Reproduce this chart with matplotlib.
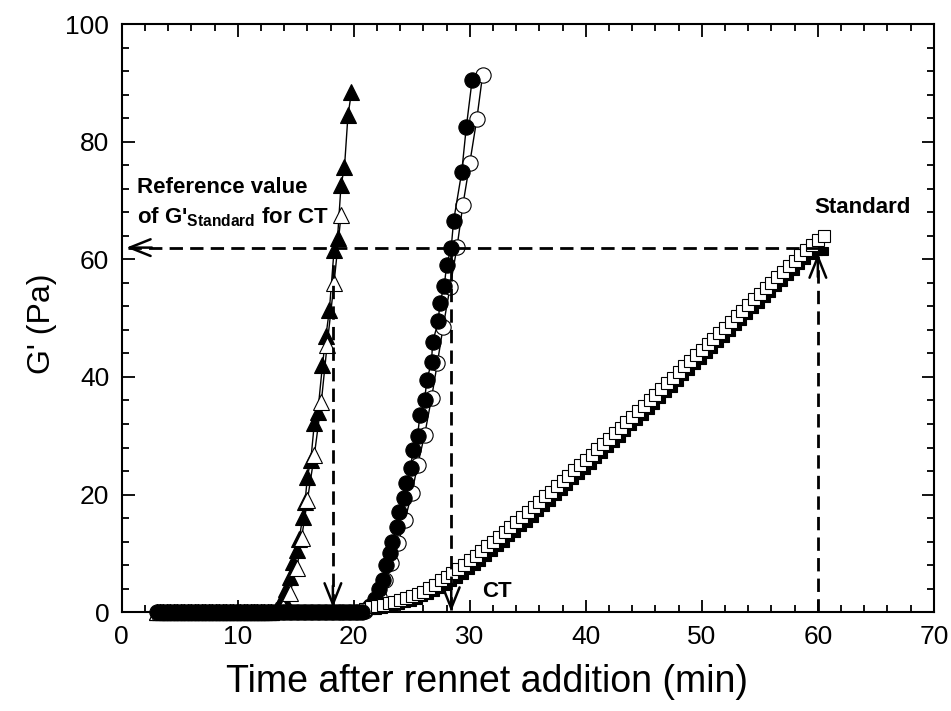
import matplotlib
matplotlib.use("Agg")
import matplotlib.pyplot as plt

plt.rcParams['font.family'] = ['Liberation Sans', 'DejaVu Sans']
plt.rcParams['mathtext.fontset'] = 'custom'
plt.rcParams['mathtext.rm'] = 'Liberation Sans'
plt.rcParams['mathtext.bf'] = 'Liberation Sans:bold'

# ---- data (time in min, G' in Pa) ----
lag_t = [3.0, 3.3, 3.6, 3.9, 4.2, 4.5, 4.8, 5.1, 5.4, 5.7, 6.0, 6.3, 6.6,
         6.9, 7.2, 7.5, 7.8, 8.1, 8.4, 8.7, 9.0, 9.3, 9.6, 9.9, 10.2, 10.5,
         10.8, 11.1, 11.4, 11.7, 12.0, 12.3, 12.6, 12.9]
lag_g = [0.0, 0.0, 0.0, 0.0, 0.0, 0.0, 0.0, 0.0, 0.0, 0.0, 0.0, 0.0, 0.0,
         0.0, 0.0, 0.0, 0.0, 0.0, 0.0, 0.0, 0.0, 0.0, 0.0, 0.0, 0.0, 0.0,
         0.0, 0.0, 0.0, 0.0, 0.0, 0.0, 0.0, 0.0]
lag2_t = [13.2, 13.5, 13.8, 14.1, 14.4, 14.7, 15.0, 15.3, 15.6, 15.9,
          16.2, 16.5, 16.8, 17.1, 17.4, 17.7, 18.0, 18.3, 18.6, 18.9,
          19.2, 19.5, 19.8, 20.1, 20.4, 20.7]
lag2_g = [0.0, 0.0, 0.0, 0.0, 0.0, 0.0, 0.0, 0.0, 0.0, 0.0,
          0.0, 0.0, 0.0, 0.0, 0.0, 0.0, 0.0, 0.0, 0.0, 0.0,
          0.0, 0.0, 0.0, 0.0, 0.0, 0.0]

tri_f_t = [13.3, 13.6, 13.9, 14.2, 14.5, 14.8, 15.1, 15.3, 15.6, 15.8,
           16.0, 16.3, 16.6, 16.9, 17.3, 17.6, 17.9, 18.3, 18.6, 18.9,
           19.2, 19.5, 19.8]
tri_f_g = [0.4, 1.0, 2.6, 4.0, 6.0, 8.5, 10.5, 12.5, 16.2, 18.7,
           23.0, 25.9, 32.1, 34.0, 42.0, 47.0, 51.4, 61.6, 63.6, 72.6,
           75.7, 84.5, 88.4]

tri_o_t = [13.3, 13.9, 14.5, 15.1, 15.5, 16.0, 16.6, 17.2, 17.7, 18.3, 18.9]
tri_o_g = [0.2, 0.8, 3.3, 7.5, 12.6, 19.0, 26.7, 35.7, 45.4, 56.0, 67.5]

cir_f_t = [21.0, 21.4, 21.8, 22.2, 22.5, 22.8, 23.1, 23.3, 23.7, 23.9,
           24.3, 24.5, 24.9, 25.1, 25.5, 25.7, 26.1, 26.3, 26.7, 26.8,
           27.3, 27.4, 27.8, 28.0, 28.4, 28.6, 29.3, 29.7, 30.2]
cir_f_g = [0.4, 1.0, 2.2, 4.0, 5.5, 8.0, 10.0, 12.0, 14.5, 17.0,
           19.5, 22.0, 24.5, 27.5, 30.0, 33.5, 36.0, 39.5, 42.5, 46.0,
           49.5, 52.5, 55.5, 59.0, 62.0, 66.5, 74.8, 82.5, 90.5]

cir_o_t = [21.0, 21.6, 22.2, 22.7, 23.2, 23.8, 24.4, 25.0, 25.5, 26.1,
           26.7, 27.2, 27.7, 28.3, 28.9, 29.4, 30.0, 30.6, 31.1]
cir_o_g = [0.2, 1.0, 2.5, 5.4, 8.3, 11.7, 15.6, 20.2, 25.0, 30.1,
           36.4, 42.3, 48.5, 55.3, 62.1, 69.2, 76.4, 83.8, 91.3]

sq_t = [21.0, 21.5, 22.0, 22.5, 23.0, 23.5, 24.0, 24.5, 25.0, 25.5, 26.0,
        26.5, 27.0, 27.5, 28.0, 28.5, 29.0, 29.5, 30.0, 30.5, 31.0, 31.5,
        32.0, 32.5, 33.0, 33.5, 34.0, 34.5, 35.0, 35.5, 36.0, 36.5, 37.0,
        37.5, 38.0, 38.5, 39.0, 39.5, 40.0, 40.5, 41.0, 41.5, 42.0, 42.5,
        43.0, 43.5, 44.0, 44.5, 45.0, 45.5, 46.0, 46.5, 47.0, 47.5, 48.0,
        48.5, 49.0, 49.5, 50.0, 50.5, 51.0, 51.5, 52.0, 52.5, 53.0, 53.5,
        54.0, 54.5, 55.0, 55.5, 56.0, 56.5, 57.0, 57.5, 58.0, 58.5, 59.0,
        59.5, 60.0, 60.5]
sq_o_g = [0.6, 0.8, 1.0, 1.2, 1.5, 1.7, 2.0, 2.4, 2.7, 3.1, 3.5,
          4.1, 4.7, 5.4, 6.0, 6.7, 7.4, 8.1, 8.8, 9.6, 10.4, 11.2,
          12.0, 12.8, 13.6, 14.5, 15.3, 16.2, 17.0, 17.9, 18.8, 19.7, 20.5,
          21.4, 22.3, 23.2, 24.1, 25.0, 25.9, 26.8, 27.7, 28.6, 29.5, 30.4,
          31.4, 32.3, 33.2, 34.2, 35.1, 36.1, 37.0, 38.0, 38.9, 39.9, 40.8,
          41.8, 42.7, 43.7, 44.6, 45.6, 46.5, 47.5, 48.4, 49.4, 50.3, 51.3,
          52.2, 53.2, 54.1, 55.1, 56.0, 57.0, 57.9, 58.9, 59.8, 60.7, 61.6,
          62.5, 63.3, 64.0]
sq_f_g = [0.2, 0.3, 0.4, 0.6, 0.8, 1.0, 1.2, 1.5, 1.8, 2.1, 2.5,
          2.9, 3.4, 3.9, 4.5, 5.1, 5.7, 6.4, 7.1, 7.8, 8.6, 9.4,
          10.2, 11.0, 11.8, 12.7, 13.5, 14.4, 15.2, 16.1, 17.0, 17.9, 18.8,
          19.7, 20.6, 21.5, 22.4, 23.3, 24.2, 25.1, 26.0, 26.9, 27.9, 28.8,
          29.7, 30.6, 31.6, 32.5, 33.4, 34.4, 35.3, 36.3, 37.2, 38.2, 39.1,
          40.1, 41.0, 42.0, 42.9, 43.9, 44.8, 45.8, 46.7, 47.7, 48.6, 49.6,
          50.5, 51.5, 52.4, 53.4, 54.3, 55.3, 56.2, 57.2, 58.1, 59.0, 59.9,
          60.8, 61.5, 61.5]

g_ref = 62.0
ct_sample1 = 18.2
ct_sample2 = 28.4
ct_standard = 60.0

fig = plt.figure(figsize=(9.51, 7.11), dpi=100)
ax = fig.add_axes([0.128, 0.139, 0.854, 0.827])

lw = 1.0
mk = dict(color='black', lw=lw, mec='black', mew=0.8, clip_on=False)
# triangles: filled first, open on top
ax.plot(lag_t + tri_f_t, lag_g + tri_f_g, marker='^', ms=11, mfc='black',
        zorder=3, **mk)
ax.plot(lag_t + tri_o_t, lag_g + tri_o_g, marker='^', ms=11, mfc='white',
        zorder=4, **mk)
# circles: open first, filled on top
ax.plot(cir_o_t, cir_o_g, marker='o', ms=11, mfc='white', zorder=3, **mk)
ax.plot(cir_f_t, cir_f_g, marker='o', ms=11, mfc='black', zorder=4, **mk)
# squares: filled first, open on top
ax.plot(sq_t, sq_f_g, marker='s', ms=5.5, mfc='black', zorder=3, **mk)
ax.plot(sq_t, sq_o_g, marker='s', ms=8.5, mfc='white', zorder=4, **mk)
# lag phase of all samples: dense band of filled markers at G' = 0
ax.plot(lag_t + lag2_t, lag_g + lag2_g, marker='o', ms=11, mfc='black',
        zorder=5, **mk)

# dashed guide lines, solid open arrow heads
dash = dict(color='black', lw=2.0, dashes=(4.8, 2.6), zorder=6)
ax.plot([0.5, ct_standard], [g_ref, g_ref], **dash)
ax.plot([ct_sample1, ct_sample1], [0.8, g_ref], **dash)
ax.plot([ct_sample2, ct_sample2], [0.4, g_ref], **dash)
ax.plot([ct_standard, ct_standard], [0.0, 60.5], **dash)

head = dict(arrowstyle='->,head_length=1.5,head_width=0.6', color='black',
            lw=1.8, shrinkA=0, shrinkB=0)
ax.annotate('', xy=(0.4, g_ref), xytext=(2.6, g_ref), arrowprops=head,
            zorder=7)
ax.annotate('', xy=(ct_sample1, 0.8), xytext=(ct_sample1, 4.5),
            arrowprops=head, zorder=7)
ax.annotate('', xy=(ct_sample2, 0.1), xytext=(ct_sample2, 4.0),
            arrowprops=head, zorder=7)
ax.annotate('', xy=(ct_standard, 61.0), xytext=(ct_standard, 57.0),
            arrowprops=head, zorder=7)

ax.text(1.3, 72.3, 'Reference value', fontsize=16, fontweight='bold',
        va='center', ha='left')
ax.text(1.3, 67.2, r"of G'$_{\mathbf{Standard}}$ for CT", fontsize=16,
        fontweight='bold', va='center', ha='left')
ax.text(59.7, 68.9, 'Standard', fontsize=16, fontweight='bold',
        va='center', ha='left')
ax.text(31.1, 3.6, 'CT', fontsize=16, fontweight='bold',
        va='center', ha='left')

ax.set_xlim(0, 70)
ax.set_ylim(0, 100)
ax.set_xticks(range(0, 71, 10))
ax.set_yticks(range(0, 101, 20))
ax.set_xticks(range(0, 71, 2), minor=True)
ax.set_yticks(range(0, 101, 4), minor=True)
ax.tick_params(which='both', direction='in', top=True, right=True, width=1.3)
ax.tick_params(which='major', length=9, labelsize=19, pad=9)
ax.tick_params(which='minor', length=5)
for s in ax.spines.values():
    s.set_linewidth(1.5)

ax.set_xlabel('Time after rennet addition (min)', fontsize=27)
ax.set_ylabel("G' (Pa)", fontsize=23)
ax.xaxis.set_label_coords(0.45, -0.088)
ax.yaxis.set_label_coords(-0.08, 0.49)

fig.savefig('out.png', dpi=100)
